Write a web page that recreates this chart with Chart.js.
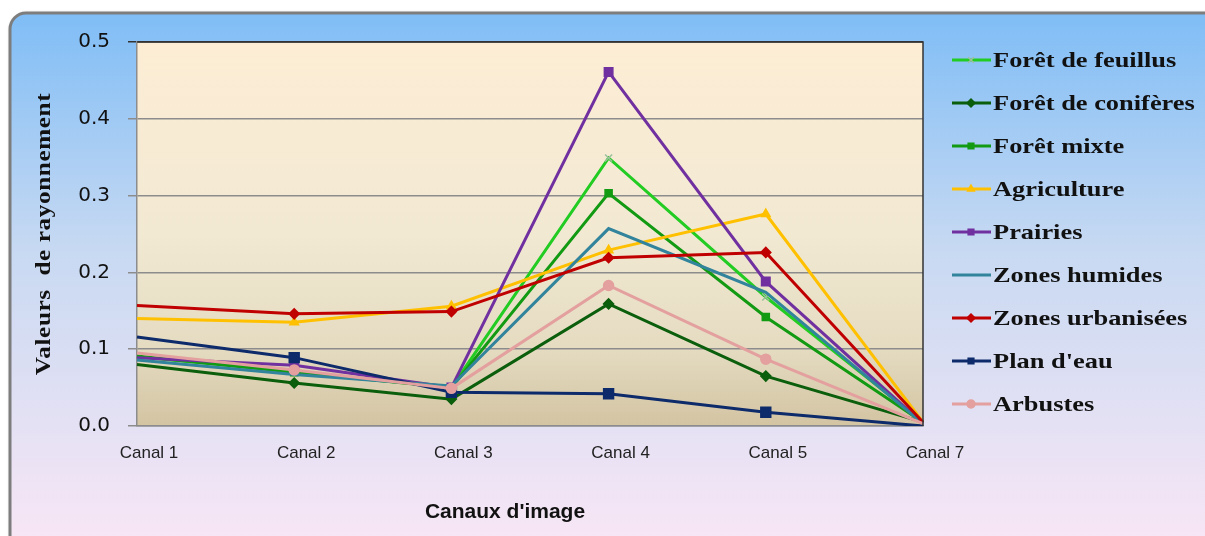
<!DOCTYPE html>
<html>
<head>
<meta charset="utf-8">
<script src="https://cdn.jsdelivr.net/npm/chart.js@4.4.0/dist/chart.umd.min.js"></script>
<style>
  html, body { margin: 0; padding: 0; background: #fff; }
  #wrap { width: 1205px; height: 536px; }
</style>
</head>
<body>
<div id="wrap"><canvas id="myChart" width="1205" height="536"></canvas></div>
<script>
// Canaux et valeurs
var canaux = ['Canal 1', 'Canal 2', 'Canal 3', 'Canal 4', 'Canal 5', 'Canal 7'];
var yTicks = [0, 0.1, 0.2, 0.3, 0.4, 0.5];

var feuillus   = [0.090, 0.071, 0.050, 0.349, 0.168, 0.005];
var coniferes  = [0.080, 0.056, 0.035, 0.159, 0.065, 0.005];
var mixte      = [0.091, 0.070, 0.050, 0.303, 0.142, 0.005];
var agriculture = [0.140, 0.135, 0.156, 0.229, 0.276, 0.005];
var prairies   = [0.089, 0.079, 0.050, 0.461, 0.188, 0.003];
var humides    = [0.086, 0.067, 0.052, 0.257, 0.174, 0.003];
var urbanisees = [0.157, 0.146, 0.149, 0.219, 0.226, 0.005];
var planEau    = [0.116, 0.089, 0.044, 0.042, 0.018, 0.000];
var arbustes   = [0.095, 0.073, 0.049, 0.183, 0.087, 0.003];

var titreX = "Canaux d'image";
var titreY = 'Valeurs  de rayonnement';

var series = [
  { label: 'Forêt de feuillus',  data: feuillus,    color: '#22cc22', style: 'crossRot', mark: '#9cbf9c', r: 5 },
  { label: 'Forêt de conifères', data: coniferes,   color: '#0b5e0b', style: 'rectRot',  mark: '#0b5e0b', r: 5 },
  { label: 'Forêt mixte',        data: mixte,       color: '#139a13', style: 'rect',     mark: '#139a13', r: 5 },
  { label: 'Agriculture',        data: agriculture, color: '#ffc000', style: 'triangle', mark: '#ffc000', r: 5 },
  { label: 'Prairies',           data: prairies,    color: '#7030a0', style: 'rect',     mark: '#7030a0', r: 6 },
  { label: 'Zones humides',      data: humides,     color: '#31849b', style: 'circle',   mark: '#31849b', r: 0 },
  { label: 'Zones urbanisées',   data: urbanisees,  color: '#c00000', style: 'rectRot',  mark: '#c00000', r: 5 },
  { label: "Plan d'eau",         data: planEau,     color: '#0d2a6b', style: 'rect',     mark: '#0d2a6b', r: 7 },
  { label: 'Arbustes',           data: arbustes,    color: '#e3a09e', style: 'circle',   mark: '#e3a09e', r: 5 }
];

// fond, cadre arrondi, zone de tracé, titres et légende
var decor = {
  id: 'decor',
  beforeDraw: function (chart) {
    var c = chart.ctx, a = chart.chartArea;
    c.save();
    var g = c.createLinearGradient(0, 13, 0, 536);
    g.addColorStop(0, '#7fbdf6');
    g.addColorStop(0.45, '#c7d9f2');
    g.addColorStop(1, '#f7e6f5');
    c.shadowColor = 'rgba(0,0,0,0.35)';
    c.shadowBlur = 4;
    c.shadowOffsetX = 1;
    c.shadowOffsetY = 1;
    c.beginPath();
    c.roundRect(10, 13, 1230, 560, 16);
    c.fillStyle = g;
    c.fill();
    c.shadowColor = 'transparent';
    c.lineWidth = 3;
    c.strokeStyle = '#7d7d7d';
    c.stroke();
    var p = c.createLinearGradient(0, a.top, 0, a.bottom);
    p.addColorStop(0, '#fdedd5');
    p.addColorStop(0.5, '#f2e9d3');
    p.addColorStop(0.8, '#e4dbc1');
    p.addColorStop(1, '#d3c4a2');
    c.fillStyle = p;
    c.fillRect(a.left, a.top, a.right - a.left, a.bottom - a.top);
    c.restore();
  },
  afterDraw: function (chart) {
    var c = chart.ctx, a = chart.chartArea;
    c.save();
    c.strokeStyle = '#333';
    c.lineWidth = 1.5;
    c.beginPath();
    c.moveTo(a.left, a.top);
    c.lineTo(a.right, a.top);
    c.lineTo(a.right, a.bottom);
    c.stroke();

    // titres des axes
    c.fillStyle = '#111';
    c.textAlign = 'center';
    c.textBaseline = 'middle';
    c.font = 'bold 21px "Liberation Sans"';
    c.fillText(titreX, 505, 512);
    c.save();
    c.translate(45, (a.top + a.bottom) / 2);
    c.rotate(-Math.PI / 2);
    c.scale(1.2, 1);
    c.font = 'bold 21px "Liberation Serif"';
    c.letterSpacing = '0.5px';
    c.fillText(titreY, 0, 0);
    c.restore();

    // légende
    c.textAlign = 'left';
    chart.data.datasets.forEach(function (ds, i) {
      var y = 60 + i * 43;
      c.strokeStyle = ds.borderColor;
      c.lineWidth = 3;
      c.beginPath();
      c.moveTo(952, y);
      c.lineTo(991, y);
      c.stroke();
      if (ds.legendMark > 0) {
        c.fillStyle = ds.pointBackgroundColor;
        c.strokeStyle = ds.pointBorderColor;
        c.lineWidth = 1.5;
        Chart.helpers.drawPoint(c, {
          pointStyle: ds.pointStyle, radius: 4, borderWidth: 1.5
        }, 971, y);
      }
      c.save();
      c.translate(993, y + 1);
      c.scale(1.2, 1);
      c.fillStyle = '#111';
      c.font = 'bold 22px "Liberation Serif"';
      c.textBaseline = 'middle';
      c.fillText(ds.label, 0, 0);
      c.restore();
    });
    c.restore();
  }
};

var ctx = document.getElementById('myChart').getContext('2d');
var myChart = new Chart(ctx, {
  type: 'line',
  data: {
    labels: canaux,
    datasets: series.map(function (s, i) {
      return {
        label: s.label,
        data: s.data,
        borderColor: s.color,
        borderWidth: 3,
        pointStyle: s.style,
        legendMark: s.r,
        // pas de marqueur sur les bords de la zone de tracé
        pointRadius: s.data.map(function (v, j) {
          return (j === 0 || j === s.data.length - 1) ? 0 : s.r;
        }),
        pointBackgroundColor: s.mark,
        pointBorderColor: s.mark,
        pointBorderWidth: 1.5,
        tension: 0,
        order: series.length - 1 - i // dernière série au-dessus, comme dans Excel
      };
    })
  },
  options: {
    responsive: false,
    animation: false,
    layout: { padding: { top: 42, right: 282, left: 0, bottom: 0 } },
    plugins: { legend: { display: false }, tooltip: { enabled: false } },
    scales: {
      x: {
        offset: false,
        grid: { display: false, drawTicks: false },
        border: { display: true, color: '#8c8c8c', width: 1.5 },
        ticks: {
          padding: 17, labelOffset: 12, color: '#222',
          font: { family: '"Liberation Sans"', size: 17 }
        },
        afterFit: function (scale) { scale.height = 110; }
      },
      y: {
        min: 0, max: 0.5,
        afterBuildTicks: function (scale) {
          scale.ticks = yTicks.map(function (v) { return { value: v }; });
        },
        grid: {
          color: function (c) { return c.tick && c.tick.value === 0.5 ? '#333' : '#8c8c8c'; },
          lineWidth: 1.5, tickLength: 9
        },
        border: { color: '#8c8c8c', width: 1.5 },
        ticks: {
          padding: 18, color: '#111',
          font: { family: '"DejaVu Sans"', size: 20 },
          callback: function (v) { return v.toFixed(1); }
        },
        afterFit: function (scale) { scale.width = 137; }
      }
    }
  },
  plugins: [decor]
});
</script>
</body>
</html>
